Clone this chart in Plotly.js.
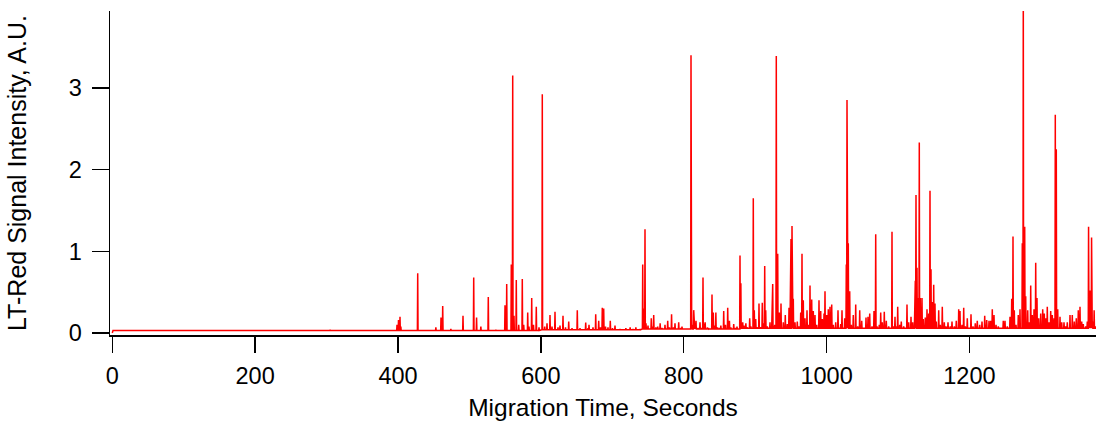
<!DOCTYPE html>
<html>
<head>
<meta charset="utf-8">
<script src="https://cdn.plot.ly/plotly-3.0.1.min.js"></script>
<style>html,body{margin:0;padding:0;background:#fff;}#chart{width:1096px;height:421px;}</style>
</head>
<body>
<div id="chart"></div>
<script>
// Migration time (s) of each read sample / spike apex, and its LT-Red intensity (A.U.)
var sampleTime = [
  0, 1, 50, 100, 150, 200, 250, 305, 350, 395,
  398.6, 400.7, 402.8, 404, 427.6, 453, 460.2, 462.6, 474, 491,
  506, 510, 516, 526.4, 537, 549.8, 552.2, 558.6, 560.6, 562.4,
  565.6, 569, 574, 576, 581.6, 583.4, 587.2, 589.7, 593.6, 597.4,
  602, 605.4, 608.6, 612.8, 615.6, 619.8, 624, 626.8, 631, 634.5,
  639, 643.6, 651, 654.8, 662.8, 666, 667.4, 673, 676.8, 681,
  683.5, 686, 688, 690.5, 694, 697.2, 700.3, 703.8, 710.8, 719,
  725, 729, 733, 739, 742.6, 744.4, 745.8, 747.2, 750, 754.6,
  756, 758, 761, 763.6, 767, 769.6, 773.8, 777.6, 780, 783,
  785.7, 787.8, 793, 796, 797.6, 801, 806, 810.2, 811.6, 814,
  815.8, 817.2, 820, 822.8, 825, 827, 829, 830, 833, 834.7,
  839.6, 841.4, 843, 845, 847.3, 850, 852, 856, 858.5, 861.6,
  864, 866, 870, 872.5, 874.6, 878.8, 880, 882.6, 884.4, 887,
  888.6, 892.4, 894, 897.4, 898.8, 900.8, 902.6, 905.4, 907.5, 910,
  911.7, 913.4, 914.8, 917, 920.8, 923.6, 924.6, 927.4, 929.6, 931.6,
  933.8, 936.2, 939.4, 942.2, 945, 947.4, 949.2, 950.2, 951.6, 953.4,
  955.8, 959, 961.4, 963.8, 965.6, 967.4, 969.8, 972.6, 974.4, 976.8,
  979.2, 981.4, 983.8, 986.2, 989.4, 991.8, 994, 996.4, 997.8, 1000.2,
  1002.4, 1004.8, 1007.2, 1009.4, 1012.8, 1016, 1019.8, 1021.6, 1025.4, 1027.6,
  1028.6, 1030.4, 1032.4, 1034.6, 1037.4, 1040.8, 1043.6, 1046.4, 1049.2, 1053.4,
  1055.2, 1058, 1060.4, 1063.6, 1066.4, 1068.8, 1070.6, 1073.8, 1075.8, 1078,
  1080.8, 1083.6, 1087, 1091.6, 1093.4, 1095.8, 1098.2, 1099.6, 1102.4, 1104.6,
  1108, 1112.6, 1115, 1118.2, 1120.6, 1123.4, 1124.2, 1125.2, 1126.6, 1128,
  1129.8, 1131.2, 1133.6, 1135.4, 1138.2, 1140.6, 1143, 1144.8, 1146.2, 1148,
  1150, 1151.8, 1153.6, 1157, 1159.2, 1162, 1164.8, 1167.2, 1170, 1173.2,
  1175.6, 1178.8, 1181.6, 1185, 1186.8, 1189.6, 1192, 1194.2, 1197, 1199,
  1202.2, 1205, 1208.2, 1211, 1214.4, 1217.6, 1221.4, 1224.2, 1227.4, 1229.8,
  1232, 1234.4, 1237.2, 1240.4, 1243.8, 1247.4, 1249.8, 1253, 1256.8, 1259.2,
  1261, 1262.8, 1265.2, 1268.4, 1270.8, 1274, 1275.4, 1277.4, 1278.8, 1281.6,
  1283.4, 1285.8, 1288, 1290.4, 1292.8, 1294.6, 1297, 1299.8, 1302.6, 1304.8,
  1306.8, 1309, 1311.4, 1313.8, 1316, 1318.4, 1320.2, 1321.6, 1323.6, 1326.8,
  1329.2, 1332.4, 1334.8, 1337, 1340.8, 1344, 1346.8, 1349.6, 1352.4, 1354.8,
  1357.2, 1359.4, 1362.8, 1365, 1366.8, 1367.8, 1369.6, 1371, 1372.4, 1374.6,
  1377
];
var sampleIntensity = [
  0, 0.03, 0.03, 0.03, 0.03, 0.03, 0.03, 0.04, 0.03, 0.03,
  0.10, 0.16, 0.20, 0.08, 0.73, 0.07, 0.19, 0.33, 0.05, 0.21,
  0.68, 0.19, 0.08, 0.44, 0.04, 0.34, 0.60, 0.84, 3.15, 0.21,
  0.65, 0.10, 0.66, 0.10, 0.25, 0.08, 0.43, 0.10, 0.32, 0.07,
  2.92, 0.08, 0.12, 0.22, 0.08, 0.26, 0.07, 0.09, 0.21, 0.07,
  0.14, 0.06, 0.28, 0.06, 0.13, 0.06, 0.10, 0.07, 0.23, 0.15,
  0.07, 0.31, 0.30, 0.08, 0.07, 0.15, 0.06, 0.09, 0.05, 0.06,
  0.07, 0.05, 0.07, 0.05, 0.84, 0.30, 1.27, 0.12, 0.09, 0.18,
  0.08, 0.22, 0.07, 0.08, 0.12, 0.06, 0.10, 0.15, 0.07, 0.23,
  0.07, 0.12, 0.13, 0.06, 0.08, 0.05, 0.05, 3.40, 0.10, 0.28,
  0.10, 0.15, 0.06, 0.13, 0.06, 0.68, 0.08, 0.13, 0.06, 0.06,
  0.47, 0.25, 0.09, 0.25, 0.07, 0.06, 0.09, 0.27, 0.10, 0.31,
  0.15, 0.07, 0.11, 0.06, 0.08, 0.95, 0.61, 0.13, 0.09, 0.12,
  0.07, 0.18, 0.08, 1.65, 0.28, 0.17, 0.07, 0.36, 0.07, 0.37,
  0.12, 0.82, 0.28, 0.08, 0.13, 0.25, 0.60, 0.10, 3.39, 0.97,
  0.25, 0.36, 0.13, 0.22, 0.11, 0.31, 0.91, 1.15, 1.31, 0.42,
  0.13, 0.14, 0.08, 0.25, 0.97, 0.40, 0.18, 0.28, 0.10, 0.58,
  0.41, 0.27, 0.22, 0.10, 0.40, 0.27, 0.17, 0.24, 0.51, 0.22,
  0.29, 0.32, 0.35, 0.10, 0.13, 0.28, 0.11, 0.28, 0.18, 0.84,
  2.85, 1.10, 0.51, 0.10, 0.22, 0.35, 0.08, 0.28, 0.15, 0.06,
  0.19, 0.20, 0.24, 0.08, 0.27, 1.21, 0.08, 0.10, 0.25, 0.13,
  0.26, 0.15, 0.08, 1.24, 0.08, 0.20, 0.08, 0.32, 0.10, 0.14,
  0.08, 0.35, 0.13, 0.20, 0.13, 0.38, 0.64, 1.69, 0.80, 0.43,
  2.33, 0.43, 0.43, 0.17, 0.19, 0.29, 0.24, 1.74, 0.78, 0.38,
  0.59, 0.36, 0.14, 0.28, 0.10, 0.32, 0.13, 0.08, 0.13, 0.08,
  0.14, 0.08, 0.15, 0.29, 0.27, 0.10, 0.31, 0.08, 0.18, 0.06,
  0.23, 0.08, 0.12, 0.15, 0.10, 0.14, 0.21, 0.16, 0.15, 0.15,
  0.29, 0.22, 0.10, 0.08, 0.06, 0.15, 0.15, 0.08, 0.20, 0.42,
  1.18, 0.28, 0.10, 0.22, 0.29, 1.10, 4.20, 1.30, 0.45, 0.28,
  0.13, 0.58, 0.22, 0.29, 0.86, 0.43, 0.18, 0.24, 0.29, 0.24,
  0.18, 0.32, 0.13, 0.27, 0.22, 0.18, 2.67, 2.25, 0.29, 0.20,
  0.13, 0.13, 0.08, 0.13, 0.22, 0.22, 0.14, 0.18, 0.28, 0.32,
  0.14, 0.11, 0.08, 0.14, 1.30, 0.52, 0.52, 1.17, 0.14, 0.28,
  0.08
];
// Baseline (noise floor) level, per time segment
var floorStart = [0, 600, 740, 880];
var floorLevel = [0.03, 0.04, 0.05, 0.06];

function floorAt(t) {
  var f = floorLevel[0];
  for (var k = 0; k < floorStart.length; k++) if (t >= floorStart[k]) f = floorLevel[k];
  return f;
}
var xs = [], ys = [];
for (var i = 0; i < sampleTime.length; i++) {
  var t = sampleTime[i], h = sampleIntensity[i], f = floorAt(t);
  if (h > f + 0.005) {
    xs.push(t - 0.45); ys.push(f);
    xs.push(t); ys.push(h);
    xs.push(t + 0.45); ys.push(f);
  } else {
    xs.push(t); ys.push(h);
  }
}

var FONT = 'Liberation Sans, Arial, sans-serif';
var trace = {
  x: xs, y: ys, type: 'scatter', mode: 'lines',
  line: {color: '#ff0000', width: 1.5},
  hoverinfo: 'skip'
};
var layout = {
  width: 1096, height: 421,
  margin: {l: 110, r: 0, t: 11, b: 86, pad: 0},
  paper_bgcolor: '#ffffff', plot_bgcolor: '#ffffff',
  showlegend: false,
  font: {family: FONT, size: 24, color: '#000'},
  xaxis: {
    range: [-3.2, 1377.2], showgrid: false, zeroline: false,
    showline: true, linecolor: '#000', linewidth: 1.5,
    ticks: 'outside', ticklen: 16, tickwidth: 1.5, tickcolor: '#000',
    tickvals: [0, 200, 400, 600, 800, 1000, 1200],
    ticktext: ['0', '200', '400', '600', '800', '1000', '1200'],
    tickfont: {family: FONT, size: 23.5, color: '#000'},
    ticklabelstandoff: 3,
    title: {text: 'Migration Time, Seconds', font: {family: FONT, size: 24.5, color: '#000'}, standoff: 14}
  },
  yaxis: {
    range: [-0.024, 3.94], showgrid: false, zeroline: false,
    showline: true, linecolor: '#000', linewidth: 1.5,
    ticks: 'outside', ticklen: 17, tickwidth: 1.5, tickcolor: '#000',
    tickvals: [0, 1, 2, 3], ticktext: ['0', '1', '2', '3'],
    tickfont: {family: FONT, size: 23.5, color: '#000'},
    ticklabelstandoff: 5,
    title: {text: 'LT-Red Signal Intensity, A.U.', font: {family: FONT, size: 25, color: '#000'}, standoff: 35}
  }
};
Plotly.newPlot('chart', [trace], layout, {displayModeBar: false, staticPlot: true});
</script>
</body>
</html>
